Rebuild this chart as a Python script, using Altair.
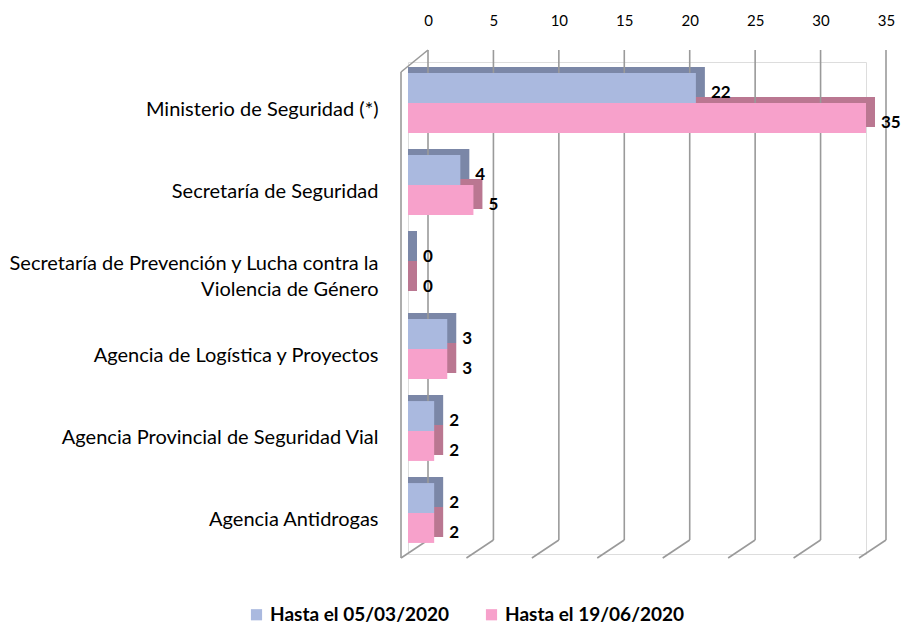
import altair as alt
import pandas as pd

categories = [
    "Ministerio de Seguridad (*)",
    "Secretaría de Seguridad",
    "Secretaría de Prevención y Lucha contra la|Violencia de Género",
    "Agencia de Logística y Proyectos",
    "Agencia Provincial de Seguridad Vial",
    "Agencia Antidrogas",
]
series_names = ["Hasta el 05/03/2020", "Hasta el 19/06/2020"]
values_s1 = [22, 4, 0, 3, 2, 2]
values_s2 = [35, 5, 0, 3, 2, 2]
tick_values = [0, 5, 10, 15, 20, 25, 30, 35]

colors = ["#AAB9DF", "#F7A1CB"]
dark_colors = ["#7B87A7", "#BA7791"]

rows = []
for c, a, b in zip(categories, values_s1, values_s2):
    rows.append({"cat": c, "serie": series_names[0], "v": a})
    rows.append({"cat": c, "serie": series_names[1], "v": b})
df = pd.DataFrame(rows)
ticks_df = pd.DataFrame({"t": tick_values})

W, H = 458, 492
FONT = "Lato"
GRID = "#9A9A9A"

y_enc = alt.Y("cat:N", sort=categories,
              scale=alt.Scale(paddingInner=0.27, paddingOuter=0.135),
              axis=alt.Axis(title=None, ticks=False, domain=False,
                            labelExpr="split(datum.label, '|')",
                            labelFontSize=20, labelFont=FONT, labelColor="#000",
                            labelPadding=30, labelLimit=500, labelLineHeight=26,
                            labelOffset={"condition": {"test": "indexof(datum.label, '|') >= 0",
                                                       "value": -3},
                                         "value": 7},
                            minExtent=400, maxExtent=400))
x_scale = alt.Scale(domain=[0, 35], nice=False)
x_enc = alt.X("v:Q", scale=x_scale,
              axis=alt.Axis(orient="top", title=None, values=tick_values,
                            ticks=False, domain=False, grid=False,
                            labelFlush=False, labelBound=False,
                            labelOffset=20, labelFontSize=15, labelFont=FONT,
                            labelColor="#000", labelPadding=34,
                            minExtent=54, maxExtent=54))
yoff = alt.YOffset("serie:N", sort=series_names)
y_plain = alt.Y("cat:N", sort=categories)

base = alt.Chart(df)


def shadow_layer(idx, y_shift):
    return base.transform_filter(alt.datum.serie == series_names[idx]).mark_bar(
        height=30, xOffset=9, x2Offset=0, yOffset=y_shift, color=dark_colors[idx]
    ).encode(x=x_enc, x2=alt.datum(0), y=y_enc)


shadow_a = shadow_layer(0, -15 - 6)
shadow_b = shadow_layer(1, 15 - 6)

front = base.mark_bar().encode(
    x="v:Q", y=y_plain, yOffset=yoff,
    fill=alt.Fill("serie:N", sort=series_names,
                  scale=alt.Scale(domain=series_names, range=colors),
                  legend=alt.Legend(title=None, orient="none", direction="horizontal",
                                    legendX=-161, legendY=543,
                                    symbolType="square", symbolSize=125,
                                    symbolStrokeWidth=0,
                                    labelFont=FONT, labelFontSize=19,
                                    labelFontWeight="bold", labelColor="#000",
                                    columnPadding=32, labelLimit=300)),
)
labels = base.mark_text(align="left", baseline="middle", dx=15, dy=5,
                        font=FONT, fontSize=17, fontWeight="bold", color="#000").encode(
    x="v:Q", y=y_plain, yOffset=yoff, text="v:Q",
)
grid = alt.Chart(ticks_df).mark_rule(color=GRID, strokeWidth=1.6,
                                     xOffset=20, x2Offset=20).encode(
    x=alt.X("t:Q", scale=x_scale), x2="t:Q",
    y=alt.value(-12), y2=alt.value(H - 14),
)
floor = alt.Chart(ticks_df).mark_rule(color=GRID, strokeWidth=1.6,
                                      xOffset=20, x2Offset=-7).encode(
    x=alt.X("t:Q", scale=x_scale), x2="t:Q",
    y=alt.value(H - 14), y2=alt.value(H + 4),
)
wall = alt.Chart(pd.DataFrame({"t": [0]})).mark_rule(
    color=GRID, strokeWidth=1.6, xOffset=-7, x2Offset=-7).encode(
    x=alt.X("t:Q", scale=x_scale), x2="t:Q",
    y=alt.value(10), y2=alt.value(H + 4),
)
wall_top = alt.Chart(pd.DataFrame({"t": [0]})).mark_rule(
    color=GRID, strokeWidth=1.6, xOffset=-7, x2Offset=20).encode(
    x=alt.X("t:Q", scale=x_scale), x2="t:Q",
    y=alt.value(10), y2=alt.value(-12),
)

chart = alt.layer(shadow_a, shadow_b, grid, floor, wall, wall_top, front, labels).properties(
    width=W, height=H,
    padding={"left": 0, "top": 0, "right": 0, "bottom": 0},
).configure_view(stroke=None).configure(background="white")

chart.save("out.html", embed_options={"renderer": "svg", "actions": False})
